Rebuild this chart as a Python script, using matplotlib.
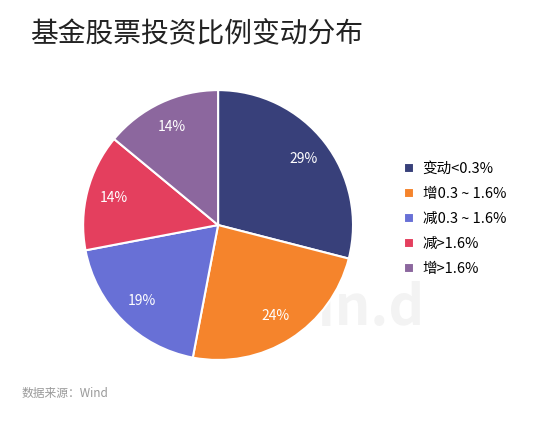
import matplotlib
matplotlib.use("Agg")
import matplotlib.pyplot as plt

plt.rcParams['font.family'] = ['Noto Sans CJK SC', 'DejaVu Sans']

labels = ['变动<0.3%', '增0.3 ~ 1.6%', '减0.3 ~ 1.6%', '减>1.6%', '增>1.6%']
values = [29, 24, 19, 14, 14]
colors = ['#38407a', '#f5842c', '#6870d6', '#e43f5e', '#8c679e']

fig = plt.figure(figsize=(5.5, 4.23), dpi=100)
fig.patch.set_facecolor('white')
fig.text(0.055, 0.92, '基金股票投资比例变动分布', fontsize=20, color='#222222', va='center')
fig.text(0.63, 0.27, 'Win.d', fontsize=40, color='#f3f3f3', ha='center', va='center',
         weight='bold', zorder=-1)

ax = fig.add_axes([0.151, 0.149, 0.491, 0.638])
ax.patch.set_visible(False)
wedges, texts, autotexts = ax.pie(values, colors=colors, startangle=90, counterclock=False,
                                  autopct='%d%%', pctdistance=0.8,
                                  wedgeprops=dict(edgecolor='white', linewidth=1.5),
                                  textprops=dict(color='white', fontsize=10))
ax.set_xlim(-1, 1)
ax.set_ylim(-1, 1)
ax.set_aspect('equal')

fig.legend(wedges, labels, loc='center left', bbox_to_anchor=(0.71, 0.482), frameon=False,
           fontsize=10.5, handlelength=0.7, handleheight=0.7, labelspacing=0.75, handletextpad=0.6)
fig.text(0.04, 0.07, '数据来源：Wind', fontsize=8.5, color='#999999', va='center')
fig.savefig('out.png', dpi=100, facecolor='white')
